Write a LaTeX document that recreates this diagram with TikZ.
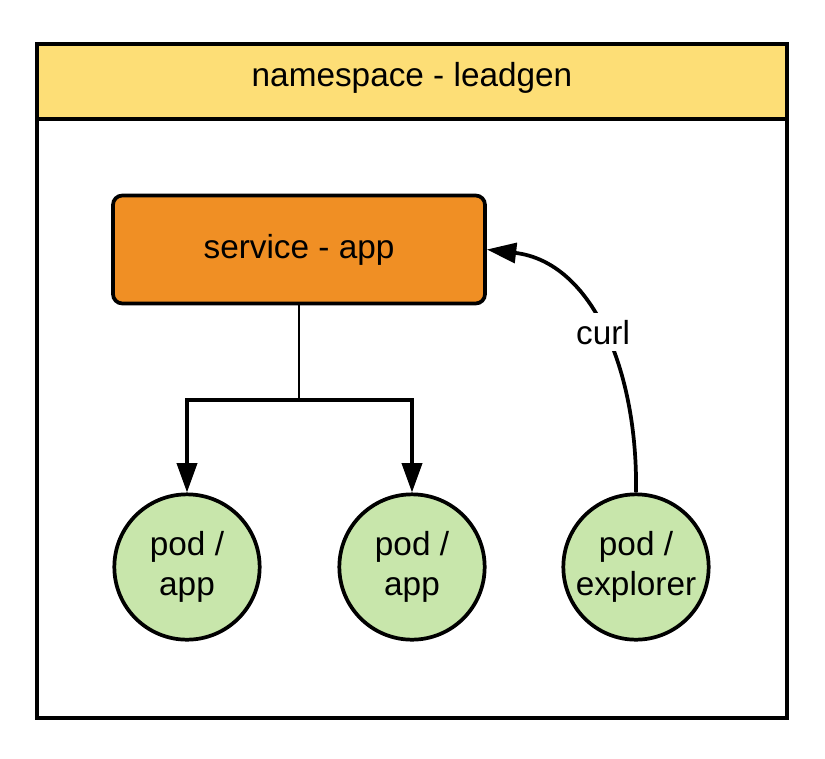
\documentclass[tikz,border=0pt]{standalone}
\usepackage{fontspec}
\setmainfont{Liberation Sans}
\usetikzlibrary{arrows.meta}

\definecolor{nsyellow}{RGB}{253,222,118}
\definecolor{svcorange}{RGB}{240,143,36}
\definecolor{podgreen}{RGB}{200,230,171}

\tikzset{
  svcbox/.style={draw, fill=svcorange, rounded corners=7pt,
    minimum width=279pt, minimum height=81pt},
  podcircle/.style={draw, circle, fill=podgreen, minimum size=109pt,
    inner sep=0pt, align=center, font=\fontsize{25}{30}\selectfont},
}

\begin{document}
\begin{tikzpicture}[x=0.75pt, y=-0.75pt, line width=2.8pt,
    >={Triangle[length=22pt,width=15pt]},
    font=\fontsize{25}{30}\selectfont]
  \useasboundingbox (0,0) rectangle (825,758);

  % namespace frame with its title band
  \draw[fill=white] (37,44) rectangle (787,718);
  \draw[fill=nsyellow] (37,44) rectangle (787,119);
  \node (ns) at (412,78) {namespace - leadgen};

  % service and pods
  \node[svcbox] (svc) at (299,249.5) {service - app};
  \node[podcircle] (pod1) at (187,567) {pod /\\app};
  \node[podcircle] (pod2) at (412,567) {pod /\\app};
  \node[podcircle] (pod3) at (636,567) {pod /\\explorer};

  % service routes to the app pods
  \coordinate (split) at (299,400);
  \draw[line width=1.8pt] (svc.south) -- (split);
  \draw[->] (split) -| (pod1.north);
  \draw[->] (split) -| (pod2.north);

  % explorer calls the service
  \draw[->] (pod3.north) .. controls (638,370) and (592,262) .. (svc.east)
    node[pos=0.49, fill=white, inner sep=5pt] (curl) {curl};
\end{tikzpicture}
\end{document}
